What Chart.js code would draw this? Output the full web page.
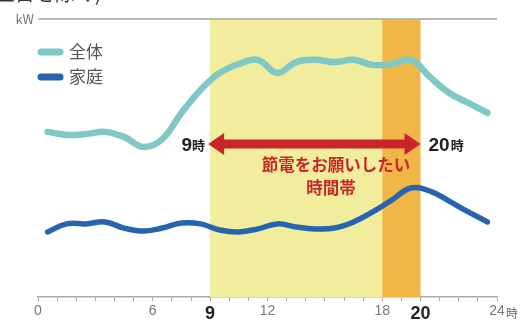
<!DOCTYPE html>
<html lang="ja">
<head>
  <meta charset="UTF-8">
  <title>節電をお願いしたい時間帯</title>
  <script src="https://cdn.jsdelivr.net/npm/chart.js"></script>
  <style>
    body { margin: 0; background: #fff; }
    #wrap { width: 523px; height: 322px; }
  </style>
</head>
<body>
  <div id="wrap"><canvas id="powerChart"></canvas></div>

  <script>
    // hours (midpoints) and load levels, relative units
    const hours = [0.5, 1.5, 2.5, 3.5, 4.5, 5.5, 6.5, 7.5, 8.5, 9.5, 10.5, 11.5,
                   12.5, 13.5, 14.5, 15.5, 16.5, 17.5, 18.5, 19.5, 20.5, 21.5, 22.5, 23.5];
    const total = [59.4, 58.3, 58.6, 59.4, 57.6, 54.0, 56.8, 66.2, 74.5, 80.6, 83.8, 85.3,
                   80.6, 84.5, 85.3, 84.5, 85.3, 83.5, 83.8, 85.3, 79.1, 73.4, 69.8, 66.2];
    const household = [23.4, 26.3, 26.3, 27.0, 24.8, 23.7, 24.8, 26.6, 26.3, 24.1, 23.4, 24.5,
                       26.3, 25.2, 24.5, 24.8, 27.0, 30.6, 34.9, 39.2, 38.1, 34.5, 30.6, 27.0];
    const tickLabels = [0, 6, 9, 12, 18, 20, 24];
    const boldTicks = [9, 20];
    const peakBand = [9, 18];
    const coreBand = [18, 20];

    const TEAL = '#80c8c6';
    const BLUE = '#2764b0';
    const RED = '#c9262b';

    // background bands, top rule, legend, arrow and notes
    const decor = {
      id: 'decor',
      beforeDatasetsDraw(chart) {
        const { ctx, chartArea: a, scales: { x } } = chart;
        ctx.save();
        ctx.fillStyle = '#f1ed9c';
        ctx.fillRect(x.getPixelForValue(peakBand[0]), a.top, x.getPixelForValue(peakBand[1]) - x.getPixelForValue(peakBand[0]), a.bottom - a.top);
        ctx.fillStyle = '#f0b746';
        ctx.fillRect(x.getPixelForValue(coreBand[0]), a.top, x.getPixelForValue(coreBand[1]) - x.getPixelForValue(coreBand[0]), a.bottom - a.top);

        // top rule + unit
        ctx.strokeStyle = '#b8b8b8';
        ctx.lineWidth = 2;
        ctx.beginPath();
        ctx.moveTo(a.left, a.top);
        ctx.lineTo(a.right, a.top);
        ctx.stroke();
        ctx.fillStyle = '#777';
        ctx.font = '13px "Noto Sans CJK JP", sans-serif';
        ctx.textAlign = 'right';
        ctx.textBaseline = 'middle';
        ctx.fillText('kW', a.left - 4, a.top);

        // cut-off heading above
        ctx.fillStyle = '#333';
        ctx.font = '20px "Noto Sans CJK JP", sans-serif';
        ctx.textAlign = 'left';
        ctx.textBaseline = 'alphabetic';
        ctx.fillText('(土日を除く)', -12, 1);
        ctx.restore();
      },
      afterDatasetsDraw(chart) {
        const { ctx, chartArea: a, scales: { x } } = chart;
        ctx.save();

        // legend
        const items = [['全体', TEAL, 52], ['家庭', BLUE, 77]];
        ctx.lineCap = 'round';
        ctx.font = '17px "Noto Sans CJK JP", sans-serif';
        ctx.textBaseline = 'middle';
        ctx.textAlign = 'left';
        items.forEach(([label, color, y]) => {
          ctx.strokeStyle = color;
          ctx.lineWidth = 7;
          ctx.beginPath();
          ctx.moveTo(41, y);
          ctx.lineTo(60, y);
          ctx.stroke();
          ctx.fillStyle = '#555';
          ctx.fillText(label, 69, y);
        });

        // double arrow 9 -> 20
        const x0 = x.getPixelForValue(peakBand[0]) - 2;
        const x1 = x.getPixelForValue(coreBand[1]);
        const ay = 144;
        const hl = 16, hh = 11, sh = 4.5;
        ctx.fillStyle = RED;
        ctx.beginPath();
        ctx.moveTo(x0, ay);
        ctx.lineTo(x0 + hl, ay - hh);
        ctx.lineTo(x0 + hl, ay - sh);
        ctx.lineTo(x1 - hl, ay - sh);
        ctx.lineTo(x1 - hl, ay - hh);
        ctx.lineTo(x1, ay);
        ctx.lineTo(x1 - hl, ay + hh);
        ctx.lineTo(x1 - hl, ay + sh);
        ctx.lineTo(x0 + hl, ay + sh);
        ctx.lineTo(x0 + hl, ay + hh);
        ctx.closePath();
        ctx.fill();

        // 9時 / 20時
        ctx.fillStyle = '#222';
        ctx.textBaseline = 'alphabetic';
        ctx.font = 'bold 13px "Noto Sans CJK JP", sans-serif';
        ctx.textAlign = 'right';
        ctx.fillText('時', x0 - 3, 150);
        const jiW = ctx.measureText('時').width;
        ctx.font = 'bold 19px "Liberation Sans", Arial, sans-serif';
        ctx.fillText('9', x0 - 3 - jiW, 151);

        ctx.textAlign = 'left';
        ctx.font = 'bold 19px "Liberation Sans", Arial, sans-serif';
        ctx.fillText('20', x1 + 8, 151);
        const w20 = ctx.measureText('20').width;
        ctx.font = 'bold 13px "Noto Sans CJK JP", sans-serif';
        ctx.fillText('時', x1 + 8 + w20 + 1, 150);

        // red note
        ctx.fillStyle = RED;
        ctx.font = 'bold 16.5px "Noto Sans CJK JP", sans-serif';
        ctx.textAlign = 'center';
        ctx.textBaseline = 'middle';
        ctx.fillText('節電をお願いしたい', 336, 165);
        ctx.fillText('時間帯', 331, 188);

        // unit after last tick
        ctx.fillStyle = '#666';
        ctx.font = '12px "Noto Sans CJK JP", sans-serif';
        ctx.textAlign = 'left';
        ctx.textBaseline = 'middle';
        ctx.fillText('時', a.right + 9, 313);
        ctx.restore();
      }
    };

    const ctx = document.getElementById('powerChart').getContext('2d');
    new Chart(ctx, {
      type: 'line',
      data: {
        datasets: [
          {
            label: '全体',
            data: hours.map((h, i) => ({ x: h, y: total[i] })),
            borderColor: TEAL,
            borderWidth: 6.5,
            tension: 0.4,
            pointRadius: 0,
            borderCapStyle: 'round',
            borderJoinStyle: 'round'
          },
          {
            label: '家庭',
            data: hours.map((h, i) => ({ x: h, y: household[i] })),
            borderColor: BLUE,
            borderWidth: 5.5,
            tension: 0.4,
            pointRadius: 0,
            borderCapStyle: 'round',
            borderJoinStyle: 'round'
          }
        ]
      },
      options: {
        responsive: true,
        maintainAspectRatio: false,
        animation: false,
        layout: { padding: { left: 38, right: 26, top: 19, bottom: 0 } },
        plugins: { legend: { display: false }, tooltip: { enabled: false } },
        scales: {
          x: {
            type: 'linear',
            min: 0,
            max: 24,
            afterFit: s => { s.height = 25; },
            border: { color: '#aaa', width: 1.5 },
            grid: { drawOnChartArea: false, tickLength: 4, color: '#aaa', lineWidth: 1 },
            ticks: {
              stepSize: 1,
              autoSkip: false,
              maxRotation: 0,
              padding: 2,
              callback: v => tickLabels.includes(v) ? String(v) : '',
              color: c => boldTicks.includes(c.tick && c.tick.value) ? '#222' : '#777',
              font: c => boldTicks.includes(c.tick && c.tick.value)
                ? { family: '"Liberation Sans", Arial, sans-serif', size: 18, weight: 'bold' }
                : { family: '"Liberation Sans", Arial, sans-serif', size: 14 }
            }
          },
          y: { display: false, min: 0, max: 100 }
        }
      },
      plugins: [decor]
    });
  </script>
</body>
</html>
